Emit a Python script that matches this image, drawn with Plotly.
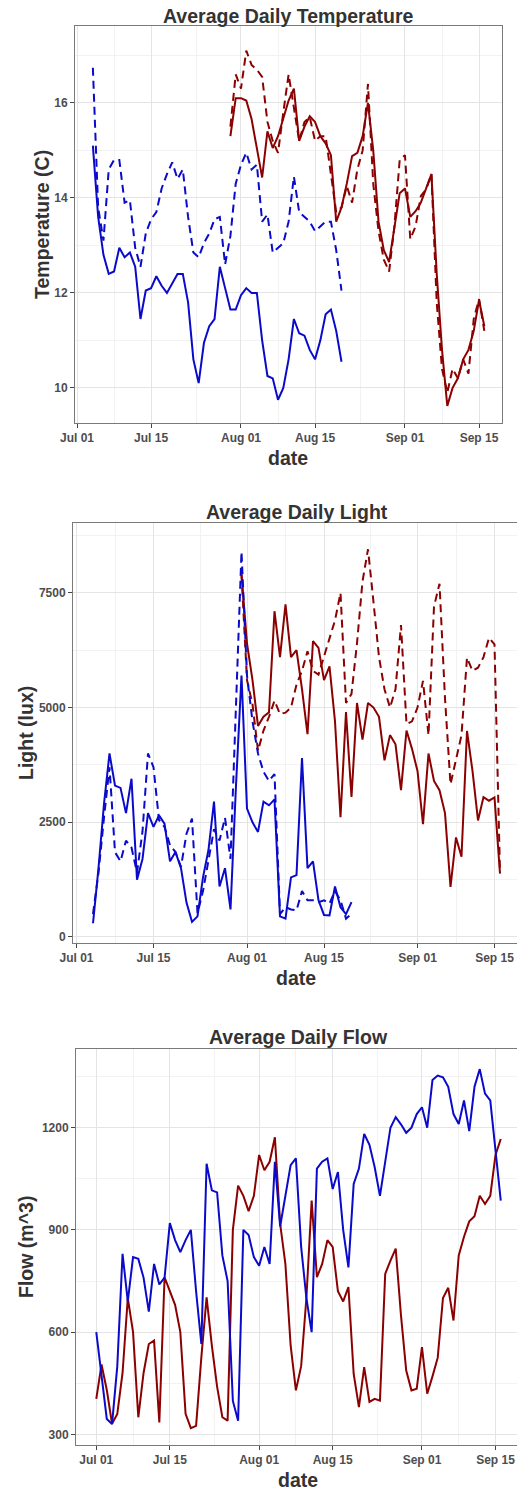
import pandas as pd
import plotly.graph_objects as go

# ---------------- data ----------------
# Daily mean water temperature (C)
temp_blue_start = "2015-07-04"
temp_blue_solid = [15.1, 13.6, 12.8, 12.4, 12.45, 12.95, 12.75, 12.85, 12.55, 11.45,
                   12.05, 12.1, 12.35, 12.15, 12.0, 12.2, 12.4, 12.4, 11.8, 10.6,
                   10.1, 10.95, 11.3, 11.45, 12.55, 12.1, 11.65, 11.65, 11.95, 12.1,
                   12.0, 12.0, 11.0, 10.25, 10.2, 9.75, 10.0, 10.6, 11.45, 11.15,
                   11.1, 10.8, 10.6, 11.0, 11.55, 11.65, 11.2, 10.55]
temp_blue_dash = [16.74, 13.8, 13.1, 14.6, 14.8, 14.8, 13.9, 13.95, 12.95, 12.55,
                  13.25, 13.55, 13.7, 14.2, 14.5, 14.75, 14.4, 14.6, 13.6, 12.85,
                  12.75, 13.05, 13.25, 13.55, 13.6, 12.6, 13.2, 14.3, 14.7, 14.95,
                  14.6, 14.7, 13.5, 13.65, 12.85, 12.95, 13.05, 13.5, 14.45, 13.7,
                  13.6, 13.5, 13.3, 13.4, 13.5, 13.5, 12.9, 12.05]
temp_red_start = "2015-07-30"
temp_red_solid = [15.3, 16.1, 16.1, 16.05, 15.66, 15.0, 14.43, 15.4, 15.05, 15.3,
                  15.66, 16.05, 16.3, 15.2, 15.5, 15.72, 15.6, 15.3, 15.15, 14.9,
                  13.5, 13.8, 14.3, 14.88, 14.95, 15.3, 16.0, 15.0, 13.5, 12.9,
                  12.65, 13.4, 14.1, 14.2, 13.6, 13.72, 13.9, 14.2, 14.5, 12.4,
                  10.8, 9.62, 10.0, 10.2, 10.6, 10.8, 11.2, 11.85, 11.3]
temp_red_dash = [15.5, 16.6, 16.3, 17.1, 16.8, 16.7, 16.55, 15.6, 15.2, 14.95,
                 15.8, 16.6, 15.9, 15.2, 15.6, 15.7, 15.2, 15.3, 15.3, 14.5,
                 13.7, 13.8, 14.25, 13.9, 14.6, 15.0, 16.4, 14.3, 13.3, 12.7,
                 12.45, 13.4, 14.8, 14.9, 13.13, 13.4, 14.04, 14.18, 14.5, 11.8,
                 10.4, 9.9, 10.4, 10.2, 10.6, 10.3, 11.45, 11.87, 11.2]

# Daily mean light (lux)
light_blue_start = "2015-07-04"
light_blue_solid = [300, 1500, 2900, 4000, 3300, 3250, 2700, 3450, 1250, 1700,
                    2700, 2400, 2650, 2470, 1650, 1850, 1500, 750, 330, 450,
                    1300, 1900, 2950, 1100, 1500, 600, 3300, 5700, 2800, 2500,
                    2290, 2950, 2870, 3000, 450, 400, 1300, 1350, 3900, 1500,
                    1650, 800, 480, 470, 1100, 650, 500, 760]
light_blue_dash = [500, 1400, 2600, 3700, 1850, 1650, 2100, 1950, 1400, 2300,
                   4000, 3700, 2550, 2400, 2000, 1850, 1530, 2250, 2580, 520,
                   1000, 1700, 2350, 2100, 2600, 1700, 5000, 8400, 5700, 4700,
                   4000, 3600, 3400, 3550, 500, 650, 600, 580, 1000, 800,
                   800, 760, 800, 730, 1000, 800, 400, 500]
light_red_start = "2015-07-31"
light_red_solid = [7900, 6400, 5600, 4600, 4800, 4900, 7100, 6100, 7250, 6100,
                   6250, 5400, 4420, 6450, 6300, 5600, 5900, 4700, 2610, 4900,
                   3050, 5100, 4300, 5100, 5000, 4800, 3850, 4400, 4200, 3200,
                   4500, 4100, 3620, 2460, 4000, 3400, 3200, 2700, 1090, 2170,
                   1750, 4490, 3620, 2540, 3050, 2970, 3040, 1380]
light_red_dash = [7900, 5600, 5070, 4060, 4500, 4800, 5150, 4860, 4890, 5000,
                  5500, 5800, 6230, 5800, 5720, 6100, 6500, 6900, 7500, 5100,
                  5300, 6400, 7750, 8450, 7300, 6100, 5400, 5000, 5400, 6800,
                  4640, 4700, 5000, 5580, 4400, 7200, 7700, 5200, 3330, 3900,
                  4400, 6090, 5800, 5870, 6100, 6520, 6380, 1400]

# Daily mean flow (m^3)
flow_start = "2015-07-01"
flow_blue = [600, 480, 345, 330, 500, 830, 690, 820, 815, 760,
             660, 800, 740, 760, 920, 870, 835, 870, 900, 720,
             565, 1094, 1016, 1010, 825, 750, 398, 340, 900, 885,
             820, 795, 850, 800, 1100, 910, 1000, 1090, 1110, 850,
             700, 600, 1080, 1100, 1110, 1020, 1070, 900, 790, 1035,
             1080, 1182, 1150, 1084, 1000, 1100, 1200, 1231, 1210, 1185,
             1200, 1240, 1260, 1200, 1340, 1353, 1348, 1320, 1240, 1211,
             1280, 1190, 1320, 1372, 1300, 1280, 1130, 986]
flow_red = [404, 505, 430, 331, 360, 480, 700, 600, 350, 480,
            565, 575, 335, 761, 720, 680, 600, 360, 318, 325,
            526, 702, 560, 440, 350, 340, 900, 1030, 1000, 955,
            1000, 1120, 1075, 1100, 1172, 918, 800, 560, 429, 500,
            700, 986, 761, 800, 870, 850, 720, 690, 732, 477,
            380, 497, 395, 404, 399, 771, 810, 845, 650, 487,
            429, 434, 556, 419, 470, 525, 700, 730, 634, 825,
            880, 925, 940, 1000, 976, 1000, 1120, 1167]

# Axis ticks
date_ticks = ["2015-07-01", "2015-07-15", "2015-08-01", "2015-08-15", "2015-09-01", "2015-09-15"]
date_ticktext = ["Jul 01", "Jul 15", "Aug 01", "Aug 15", "Sep 01", "Sep 15"]
date_minor = ["2015-06-23 12:00", "2015-07-08", "2015-07-23 12:00", "2015-08-08",
              "2015-08-23 12:00", "2015-09-08", "2015-09-22"]
temp_ticks = [10, 12, 14, 16]
temp_minor = [9, 11, 13, 15, 17]
light_ticks = [0, 2500, 5000, 7500]
light_minor = [1250, 3750, 6250, 8750]
flow_ticks = [300, 600, 900, 1200]
flow_minor = [450, 750, 1050, 1350]

# ---------------- style ----------------
W, H = 517, 1492
BLUE = "#0a0acb"
RED = "#8b0000"
FONT = "Liberation Sans, Arial, Helvetica, sans-serif"
GRID = "#e4e4e4"
GRID_MINOR = "#f2f2f2"
BORDER = "#7a7a7a"
DASH = "8px,5px"


def days(start, n):
    return pd.date_range(start, periods=n, freq="D")


def px_x(p):
    return p / W


def px_y(p):
    return 1 - p / H


fig = go.Figure()

series = [
    # (axis, start, values, colour, dashed)
    ("1", temp_red_start, temp_red_solid, RED, False),
    ("1", temp_red_start, temp_red_dash, RED, True),
    ("1", temp_blue_start, temp_blue_solid, BLUE, False),
    ("1", temp_blue_start, temp_blue_dash, BLUE, True),
    ("2", light_red_start, light_red_solid, RED, False),
    ("2", light_red_start, light_red_dash, RED, True),
    ("2", light_blue_start, light_blue_solid, BLUE, False),
    ("2", light_blue_start, light_blue_dash, BLUE, True),
    ("3", flow_start, flow_red, RED, False),
    ("3", flow_start, flow_blue, BLUE, False),
]

for ax, start, vals, col, dashed in series:
    suffix = "" if ax == "1" else ax
    fig.add_trace(go.Scatter(
        x=days(start, len(vals)), y=vals, mode="lines",
        line=dict(color=col, width=2, dash=DASH if dashed else "solid"),
        xaxis="x" + suffix, yaxis="y" + suffix, showlegend=False,
        hoverinfo="skip",
    ))

# panel geometry in pixels: (left, right, top, bottom)
panels = {
    "1": dict(box=(75, 502, 26, 423), xr=["2015-06-30 14:55", "2015-09-19 08:10"],
              yr=[9.26, 17.62], yt=temp_ticks, ym=temp_minor, mirror_y=True),
    "2": dict(box=(73, 517, 523, 943), xr=["2015-06-30 08:44", "2015-09-19 02:10"],
              yr=[-131, 9023], yt=light_ticks, ym=light_minor, mirror_y=False),
    "3": dict(box=(76, 517, 1049, 1445), xr=["2015-06-27 03:20", "2015-09-19 02:10"],
              yr=[268.6, 1431], yt=flow_ticks, ym=flow_minor, mirror_y=False),
}

tickfont = dict(family=FONT, size=12, color="#4d4d4d", weight="bold")
layout_axes = {}
for ax, p in panels.items():
    l, r, t, b = p["box"]
    suffix = "" if ax == "1" else ax
    layout_axes["xaxis" + suffix] = dict(
        domain=[px_x(l), min(1.0, px_x(r))], anchor="y" + suffix,
        type="date", range=p["xr"], tickvals=date_ticks, ticktext=date_ticktext,
        showgrid=True, gridcolor=GRID, gridwidth=1,
        minor=dict(tickvals=date_minor, showgrid=True, gridcolor=GRID_MINOR, gridwidth=0.6),
        showline=True, linecolor=BORDER, linewidth=1, mirror=True,
        ticks="outside", ticklen=4, tickcolor="#444444", tickwidth=1,
        tickfont=tickfont, zeroline=False, automargin=False,
    )
    layout_axes["yaxis" + suffix] = dict(
        domain=[px_y(b), px_y(t)], anchor="x" + suffix,
        range=p["yr"], tickvals=p["yt"],
        showgrid=True, gridcolor=GRID, gridwidth=1,
        minor=dict(tickvals=p["ym"], showgrid=True, gridcolor=GRID_MINOR, gridwidth=0.6),
        showline=True, linecolor=BORDER, linewidth=1, mirror=p["mirror_y"],
        ticks="outside", ticklen=4, tickcolor="#444444", tickwidth=1,
        tickfont=tickfont, zeroline=False, automargin=False,
    )

titlefont = dict(family=FONT, size=19.5, color="#333333")
labels = [
    # text, x px, y px, angle
    ("Average Daily Temperature", 288, 16, 0),
    ("Temperature (C)", 42, 225, -90),
    ("date", 288, 458, 0),
    ("Average Daily Light", 297, 512, 0),
    ("Light (lux)", 26, 733, -90),
    ("date", 296, 978, 0),
    ("Average Daily Flow", 298, 1037, 0),
    ("Flow (m^3)", 26, 1247, -90),
    ("date", 298, 1480, 0),
]
annotations = [
    dict(text="<b>%s</b>" % txt, x=px_x(xp), y=px_y(yp), xref="paper", yref="paper",
         xanchor="center", yanchor="middle", showarrow=False, textangle=ang,
         font=titlefont)
    for txt, xp, yp, ang in labels
]

fig.update_layout(
    width=W, height=H, margin=dict(l=0, r=0, t=0, b=0, autoexpand=False),
    paper_bgcolor="white", plot_bgcolor="white",
    annotations=annotations, showlegend=False,
    **layout_axes,
)

fig.write_html("out.html")
